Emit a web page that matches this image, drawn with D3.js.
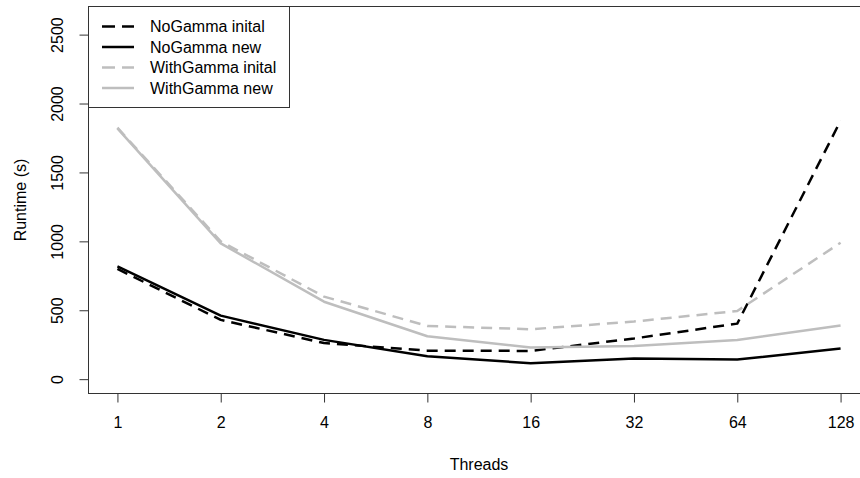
<!DOCTYPE html>
<html>
<head>
<meta charset="utf-8">
<script src="https://cdn.jsdelivr.net/npm/d3@7"></script>
<style>
  body { margin: 0; background: #fff; }
  svg { display: block; font-family: "Liberation Sans", Arial, sans-serif; }
</style>
</head>
<body>
<div id="chart"></div>
<script>
// values
const threads = ['1', '2', '4', '8', '16', '32', '64', '128'];
const noGammaInitial = [800, 430, 262, 207, 205, 295, 403, 1875];
const noGammaNew = [818, 461, 285, 166, 116, 150, 142, 222];
const withGammaInitial = [1825, 1000, 599, 386, 362, 418, 495, 990];
const withGammaNew = [1820, 985, 562, 311, 230, 240, 285, 390];
const yTicks = [0, 500, 1000, 1500, 2000, 2500];

const series = [
  { name: 'NoGamma inital', values: noGammaInitial, color: '#000', dash: '11,7' },
  { name: 'NoGamma new', values: noGammaNew, color: '#000', dash: null },
  { name: 'WithGamma inital', values: withGammaInitial, color: '#bebebe', dash: '11,7' },
  { name: 'WithGamma new', values: withGammaNew, color: '#bebebe', dash: null },
];

const W = 860, H = 478;
// plot region (R style, right edge runs past the picture)
const box = { left: 88.5, top: 6.5, right: 869.5, bottom: 393.5 };

const svg = d3.select('#chart').append('svg')
  .attr('width', W)
  .attr('height', H);

const x = d3.scalePoint()
  .domain(threads)
  .range([box.left, box.right])
  .padding(0.28);

const y = d3.scaleLinear()
  .domain([-104, 2704])
  .range([box.bottom, box.top]);

const line = d3.line()
  .x((d, i) => x(threads[i]))
  .y(d => y(d));

const plot = svg.append('g');

plot.selectAll('path.series')
  .data(series)
  .join('path')
  .attr('class', 'series')
  .attr('d', d => line(d.values))
  .attr('fill', 'none')
  .attr('stroke', d => d.color)
  .attr('stroke-width', 2.5)
  .attr('stroke-dasharray', d => d.dash)
  .attr('stroke-linejoin', 'round');

// frame
svg.append('rect')
  .attr('x', box.left)
  .attr('y', box.top)
  .attr('width', box.right - box.left)
  .attr('height', box.bottom - box.top)
  .attr('fill', 'none')
  .attr('stroke', '#333')
  .attr('stroke-width', 1);

// x axis
const xAxis = svg.append('g')
  .attr('transform', `translate(0,${box.bottom})`)
  .call(d3.axisBottom(x).tickSize(9).tickPadding(14));
xAxis.select('.domain').remove();
xAxis.selectAll('line').attr('stroke', '#333');
xAxis.selectAll('text')
  .attr('font-size', 16)
  .attr('fill', '#000')
  .attr('font-family', '"Liberation Sans", Arial, sans-serif');

// y axis
const yAxis = svg.append('g')
  .attr('transform', `translate(${box.left},0)`)
  .call(d3.axisLeft(y).tickValues(yTicks).tickSize(9).tickFormat(d3.format('d')));
yAxis.select('.domain').remove();
yAxis.selectAll('line').attr('stroke', '#333');
yAxis.selectAll('text')
  .attr('font-size', 16)
  .attr('fill', '#000')
  .attr('font-family', '"Liberation Sans", Arial, sans-serif')
  .attr('text-anchor', 'middle')
  .attr('dy', null)
  .attr('x', null)
  .attr('transform', 'translate(-30,0) rotate(-90)')
  .attr('dominant-baseline', 'middle');

// axis titles
svg.append('text')
  .attr('x', (box.left + box.right) / 2)
  .attr('y', 470)
  .attr('text-anchor', 'middle')
  .attr('font-size', 16)
  .text('Threads');

svg.append('text')
  .attr('transform', `translate(26,${(box.top + box.bottom) / 2}) rotate(-90)`)
  .attr('text-anchor', 'middle')
  .attr('font-size', 16)
  .text('Runtime (s)');

// legend
const legend = svg.append('g');
legend.append('rect')
  .attr('x', box.left)
  .attr('y', box.top)
  .attr('width', 289.5 - box.left)
  .attr('height', 107.5 - box.top)
  .attr('fill', '#fff')
  .attr('stroke', '#333');

const rows = legend.selectAll('g.row')
  .data(series)
  .join('g')
  .attr('class', 'row')
  .attr('transform', (d, i) => `translate(0,${26.5 + i * 20.5})`);

rows.append('line')
  .attr('x1', 102)
  .attr('x2', 134)
  .attr('stroke', d => d.color)
  .attr('stroke-width', 2.5)
  .attr('stroke-dasharray', d => d.dash ? '13,7' : null);

rows.append('text')
  .attr('x', 150)
  .attr('dy', '0.35em')
  .attr('font-size', 16)
  .text(d => d.name);
</script>
</body>
</html>
